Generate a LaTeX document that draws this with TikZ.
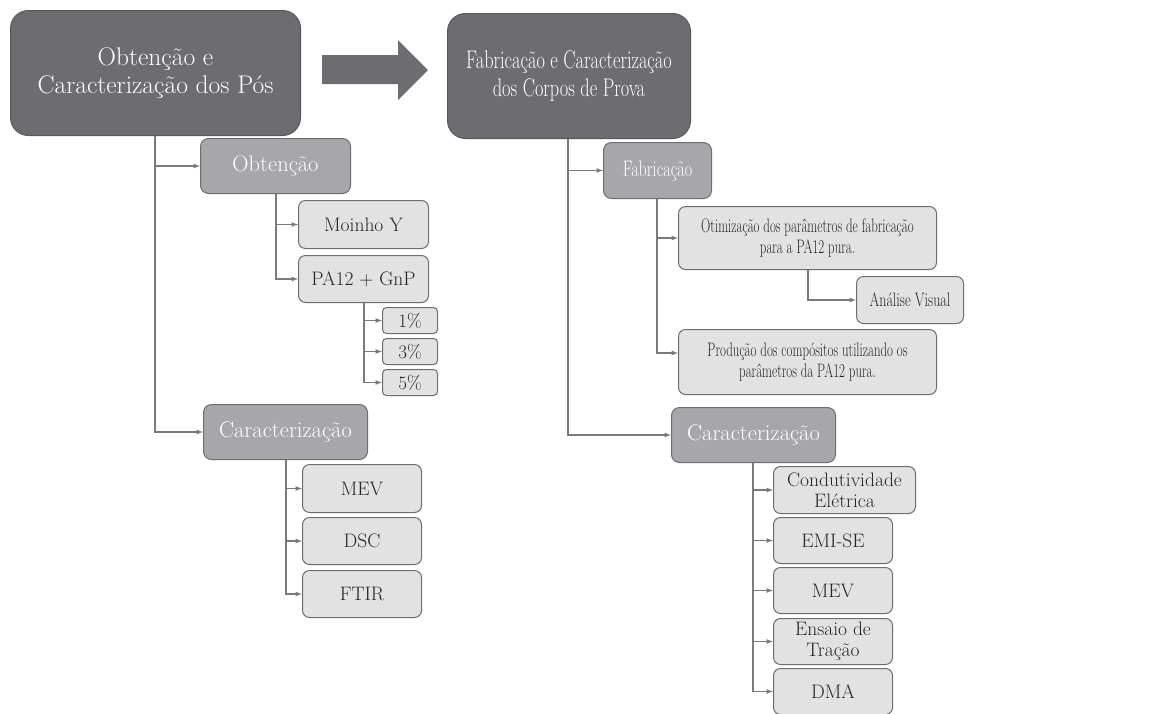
\documentclass[tikz,border=0pt]{standalone}
\usepackage{graphicx}
\usetikzlibrary{calc}

\definecolor{boxdark}{HTML}{6D6C71}
\definecolor{boxmid}{HTML}{A7A6AA}
\definecolor{boxlight}{HTML}{E2E2E2}
\definecolor{edgegray}{HTML}{6E6E70}
\definecolor{linegray}{HTML}{7A7A7A}

% horizontally squeezed text (right column)
\newcommand{\narrow}[2][0.72]{\scalebox{#1}[1]{#2}}

\begin{document}
\begin{tikzpicture}[>=latex, x=1pt, y=-1pt,
  every node/.style={anchor=north west, inner sep=2pt, align=center},
  mainbox/.style={draw=boxdark!80!black, line width=1pt, fill=boxdark,
    rounded corners=18pt, text=white, font=\fontsize{25.5}{28}\selectfont},
  subbox/.style={draw=edgegray, line width=1pt, fill=boxmid,
    rounded corners=8pt, text=white, font=\fontsize{22.5}{25}\selectfont},
  leafbox/.style={draw=edgegray, line width=1pt, fill=boxlight,
    rounded corners=7pt, text=black!85, font=\fontsize{19.5}{21}\selectfont},
  pctbox/.style={leafbox, rounded corners=4pt, font=\fontsize{19}{20}\selectfont},
  conn/.style={draw=linegray, line width=1.2pt, ->}]

% page frame
\useasboundingbox (0,0) rectangle (1168,713);
\fill[white] (0,0) rectangle (1168,713);

% powders
\node[mainbox, minimum width=290pt, minimum height=125pt] (pos) at (10,10)
  {Obtenção e\\Caracterização dos Pós};
\node[subbox, minimum width=150pt, minimum height=55pt] (obt) at (200,138) {Obtenção};
\node[leafbox, minimum width=130pt, minimum height=48pt] (moinho) at (298,200) {Moinho Y};
\node[leafbox, minimum width=130pt, minimum height=47pt] (pagnp) at (298,255) {PA12 + GnP};
\node[pctbox, minimum width=55pt, minimum height=26pt] (p1) at (382,307) {1\%};
\node[pctbox, minimum width=55pt, minimum height=26pt] (p3) at (382,338) {3\%};
\node[pctbox, minimum width=55pt, minimum height=26pt] (p5) at (382,369) {5\%};
\node[subbox, minimum width=164pt, minimum height=55pt] (carpos) at (203,404) {Caracterização};
\node[leafbox, minimum width=119pt, minimum height=48pt] (mevpos) at (302,464) {MEV};
\node[leafbox, minimum width=119pt, minimum height=47pt] (dsc) at (302,517) {DSC};
\node[leafbox, minimum width=119pt, minimum height=47pt] (ftir) at (302,570) {FTIR};

% big arrow between the two stages
\fill[boxdark] (322,55) -- (398,55) -- (398,40) -- (428,70) -- (398,100)
  -- (398,84) -- (322,84) -- cycle;

% specimens
\node[mainbox, minimum width=243pt, minimum height=125pt] (cp) at (447,13)
  {\narrow{Fabricação e Caracterização}\\\narrow{dos Corpos de Prova}};
\node[subbox, minimum width=108pt, minimum height=56pt] (fab) at (603,142) {\narrow{Fabricação}};
\node[leafbox, minimum width=258pt, minimum height=63pt] (otim) at (678,206)
  {\narrow[0.66]{Otimização dos parâmetros de fabricação}\\\narrow[0.66]{para a PA12 pura.}};
\node[leafbox, minimum width=107pt, minimum height=47pt] (visual) at (856,276) {\narrow{Análise Visual}};
\node[leafbox, minimum width=258pt, minimum height=65pt] (prod) at (678,329)
  {\narrow[0.66]{Produção dos compósitos utilizando os}\\\narrow[0.66]{parâmetros da PA12 pura.}};
\node[subbox, minimum width=164pt, minimum height=55pt] (carcp) at (671,407) {Caracterização};
\node[leafbox, minimum width=142pt, minimum height=47pt] (cond) at (773,466) {Condutividade\\Elétrica};
\node[leafbox, minimum width=119pt, minimum height=46pt] (emi) at (773,517) {EMI-SE};
\node[leafbox, minimum width=119pt, minimum height=46pt] (mevcp) at (773,567) {MEV};
\node[leafbox, minimum width=119pt, minimum height=46pt] (tracao) at (773,618) {Ensaio de\\Tração};
\node[leafbox, minimum width=119pt, minimum height=46pt] (dma) at (773,668) {DMA};

% tree connectors, left
\draw[conn] (pos.south -| 155,0) |- (obt.west);
\draw[conn] (pos.south -| 155,0) |- (carpos.west);
\draw[conn] (obt.south -| 276,0) |- (moinho.west);
\draw[conn] (obt.south -| 276,0) |- (pagnp.west);
\draw[conn] (pagnp.south -| 364,0) |- (p1.west);
\draw[conn] (pagnp.south -| 364,0) |- (p3.west);
\draw[conn] (pagnp.south -| 364,0) |- (p5.west);
\draw[conn] (carpos.south -| 286,0) |- (mevpos.west);
\draw[conn] (carpos.south -| 286,0) |- (dsc.west);
\draw[conn] (carpos.south -| 286,0) |- (ftir.west);

% tree connectors, right
\draw[conn] (cp.south -| 568,0) |- (fab.west);
\draw[conn] (cp.south -| 568,0) |- (carcp.west);
\draw[conn] (fab.south -| 657,0) |- (otim.west);
\draw[conn] (fab.south -| 657,0) |- ($(prod.west)+(0,-9)$);
\draw[conn] (otim.south -| 808,0) |- (visual.west);
\draw[conn] (carcp.south -| 753,0) |- (cond.west);
\draw[conn] (carcp.south -| 753,0) |- (emi.west);
\draw[conn] (carcp.south -| 753,0) |- (mevcp.west);
\draw[conn] (carcp.south -| 753,0) |- (tracao.west);
\draw[conn] (carcp.south -| 753,0) |- (dma.west);

\end{tikzpicture}
\end{document}
